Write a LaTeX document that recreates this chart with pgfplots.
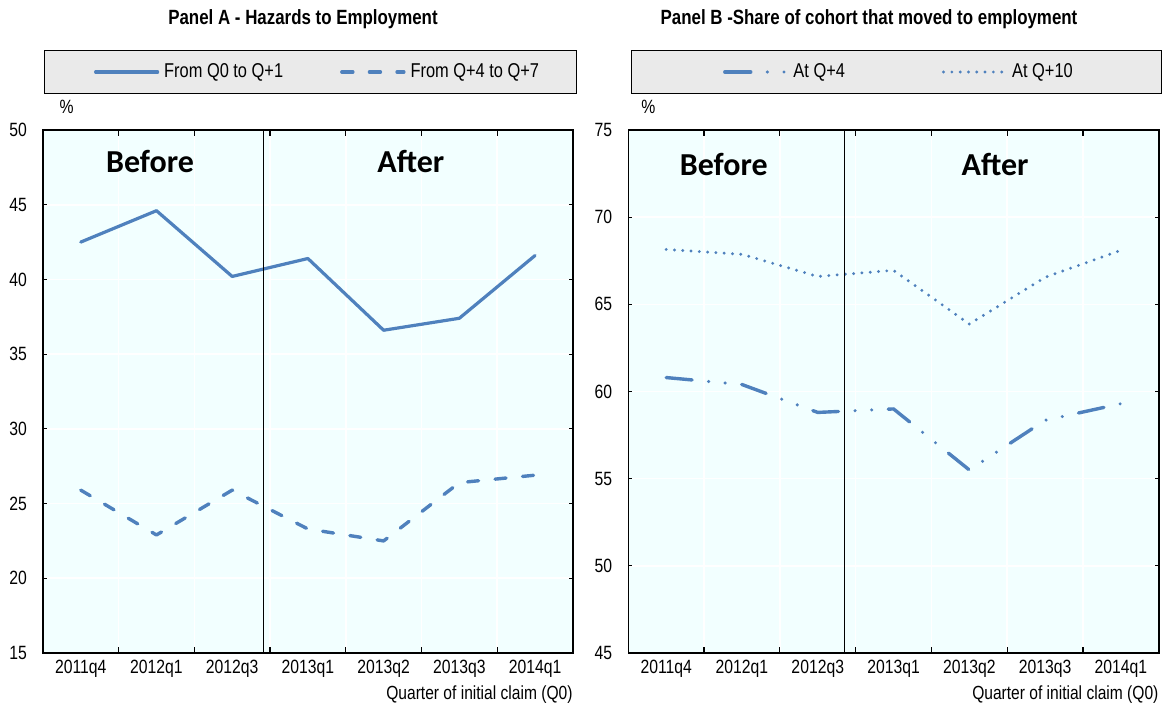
\documentclass[border=0pt]{standalone}
\usepackage{pgfplots}
\pgfplotsset{compat=1.18}
\usepackage{fontspec}
\setmainfont[FakeStretch=0.82]{Liberation Sans}
\newfontfamily\calibri{Carlito}
\definecolor{ser}{RGB}{79,129,189}
\definecolor{bg}{RGB}{242,255,255}
\definecolor{lg}{RGB}{234,234,234}
\pgfplotsset{
  panel/.style={
    scale only axis, height=261.5pt,
    clip mode=individual,
    xmin=-0.5, xmax=6.5,
    xtick={0,...,6},
    xticklabels={2011q4,2012q1,2012q3,2013q1,2013q2,2013q3,2014q1},
    major x tick style={draw=none},
    minor xtick={0.5,1.5,2.5,3.5,4.5,5.5},
    minor x tick style={black, line width=0.6pt},
    minor tick length=3pt,
    major tick length=1.8pt,
    y tick style={black, line width=0.6pt},
    xminorgrids, minor x grid style={white, line width=0.8pt},
    ymajorgrids, major y grid style={white, line width=0.8pt},
    axis background/.style={fill=bg},
    axis line style={black, line width=0.8pt},
    tick align=inside,
    /pgf/number format/assume math mode=true,
    ticklabel style={font=\fontsize{9.6}{10}\selectfont},
    yticklabel style={xshift=-4.5pt},
    xlabel={Quarter of initial claim (Q0)},
    xlabel style={at={(axis description cs:1,0)}, anchor=north east, inner sep=0pt, yshift=-16pt, font=\fontsize{9.5}{10}\selectfont},
    legend columns=2,
    legend style={draw=none, fill=none, anchor=center, font=\fontsize{10}{11}\selectfont,
      nodes={inner xsep=2.5pt}},
    legend image code/.code={\draw[##1] (0pt,0pt) -- (31pt,0pt);},
    every axis plot/.append style={line join=round, line cap=round},
  },
  sA/.style={ser, line width=1.6pt},
  sB/.style={ser, line width=1.7pt, dash pattern=on 5.5pt off 8.3pt},
  sC/.style={ser, line width=1.7pt, dash pattern=on 13pt off 8.3pt on 0pt off 8.3pt on 0pt off 8.3pt},
  sD/.style={ser, line width=1.6pt, dash pattern=on 0pt off 4.15pt},
}
\begin{document}
\begin{tikzpicture}
\useasboundingbox (0pt,0pt) rectangle (581.5pt,-354pt);
\node[font=\bfseries\fontsize{10.3}{11}\selectfont] at (151.5pt,-9.5pt) {Panel A - Hazards to Employment};
\node[font=\bfseries\fontsize{10.3}{11}\selectfont] at (434.5pt,-9.5pt) {Panel B -Share of cohort that moved to employment};
\draw[fill=lg, line width=0.5pt] (22.2pt,-25pt) rectangle (288pt,-46.5pt);
\draw[fill=lg, line width=0.5pt] (315.5pt,-25pt) rectangle (580.9pt,-46.5pt);

\begin{axis}[panel, width=265pt, at={(21.45pt,-65pt)}, anchor=north west,
  ymin=15, ymax=50, ytick={15,20,...,50},
  legend style={at={(axis description cs:0.521,1)}, yshift=29pt,
    /tikz/every even column/.append style={column sep=26pt}}]
\addplot[sA] coordinates {(0,42.5) (1,44.6) (2,40.2) (3,41.4) (4,36.6) (5,37.4) (6,41.6)};
\addlegendentry{From Q0 to Q+1}
\addplot[sB] coordinates {(0,25.9) (1,22.9) (2,25.9) (3,23.3) (4,22.5) (5,26.4) (6,26.9)};
\addlegendentry{From Q+4 to Q+7}
\addplot[black, line width=0.5pt, forget plot] coordinates {(2.41,15) (2.41,50)};
\node[font=\calibri\bfseries\fontsize{16}{16}\selectfont] at (axis cs:0.915,47.86) {Before};
\node[font=\calibri\bfseries\fontsize{16}{16}\selectfont] at (axis cs:4.36,47.86) {After};
\node[font=\fontsize{9.6}{10}\selectfont] at (axis description cs:0.045,1.045) {\%};
\end{axis}

\begin{axis}[panel, width=265.25pt, at={(314.15pt,-65pt)}, anchor=north west,
  ymin=45, ymax=75, ytick={45,50,...,75},
  legend style={at={(axis description cs:0.513,1)}, yshift=29pt,
    /tikz/every even column/.append style={column sep=46pt}}]
\addplot[sC] coordinates {(0,60.8) (1,60.4) (2,58.8) (3,59.0) (4,55.5) (5,58.35) (6,59.3)};
\addlegendentry{At Q+4}
\addplot[sD] coordinates {(0,68.15) (1,67.87) (2,66.6) (3,66.95) (4,63.87) (5,66.55) (6,68.1)};
\addlegendentry{At Q+10}
\addplot[black, line width=0.5pt, forget plot] coordinates {(2.35,45) (2.35,75)};
\node[font=\calibri\bfseries\fontsize{16}{16}\selectfont] at (axis cs:0.76,73.05) {Before};
\node[font=\calibri\bfseries\fontsize{16}{16}\selectfont] at (axis cs:4.34,73.0) {After};
\node[font=\fontsize{9.6}{10}\selectfont] at (axis description cs:0.038,1.045) {\%};
\end{axis}
\end{tikzpicture}
\end{document}
